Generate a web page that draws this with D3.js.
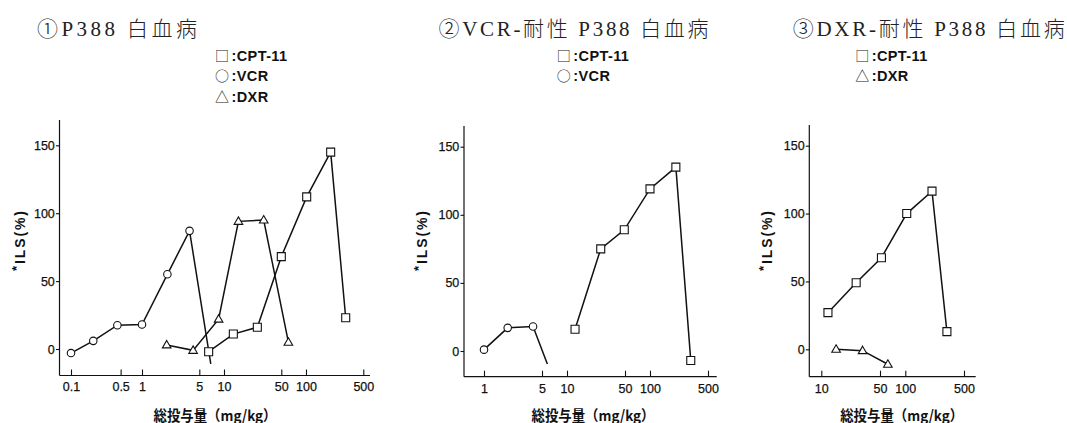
<!DOCTYPE html>
<html><head><meta charset="utf-8">
<script src="https://cdn.jsdelivr.net/npm/d3@7"></script>
<style>
html,body{margin:0;padding:0;background:#fff;}
svg{display:block;}
</style></head><body>
<svg id="chart" width="1067" height="423"></svg>
<script>
// ---------- DATA ----------
const yTickValues = [0, 50, 100, 150];
const xLabel = "総投与量（mg/kg）";
const yLabel = "ILS(%)";

// Panel 1: P388 leukemia
const p1Title = "①P388 白血病";
const p1XTickLabels = ["0.1", "0.5", "1", "5", "10", "50", "100", "500"];
const p1CptDose = [6.5, 13, 25.5, 50, 102, 200, 305];
const p1CptIls  = [-2, 11, 16, 68, 112, 145, 23];
const p1VcrDose = [0.1, 0.206, 0.45, 1, 2.04, 3.8, 6.9];
const p1VcrIls  = [-3, 6, 17.5, 18, 55, 87, -11];
const p1VcrMarked = [true, true, true, true, true, true, false];
const p1DxrDose = [2, 4.2, 8.6, 15, 30.5, 61];
const p1DxrIls  = [3, -1, 22, 94, 95, 5];
const p1Legend = ["□", "○", "△"];
const p1LegendText = [":CPT-11", ":VCR", ":DXR"];

// Panel 2: VCR-resistant P388 leukemia
const p2Title = "②VCR-耐性 P388 白血病";
const p2XTickLabels = ["1", "5", "10", "50", "100", "500"];
const p2CptDose = [12.5, 25.5, 49, 100, 205, 310];
const p2CptIls  = [16, 75, 89, 119, 135, -7];
const p2VcrDose = [1, 1.93, 3.9, 5.8];
const p2VcrIls  = [1, 17, 18, -9.5];
const p2VcrMarked = [true, true, true, false];
const p2Legend = ["□", "○"];
const p2LegendText = [":CPT-11", ":VCR"];

// Panel 3: DXR-resistant P388 leukemia
const p3Title = "③DXR-耐性 P388 白血病";
const p3XTickLabels = ["10", "50", "100", "500"];
const p3CptDose = [12, 26, 52, 104, 208, 313];
const p3CptIls  = [27, 49, 67.5, 100, 116.5, 13];
const p3DxrDose = [15, 31, 62];
const p3DxrIls  = [0, -1, -11];
const p3Legend = ["□", "△"];
const p3LegendText = [":CPT-11", ":DXR"];

// ---------- DRAWING ----------
const svg = d3.select("#chart");
const zip = (ds, vs, ms) => ds.map((d, i) => ({dose: d, ils: vs[i], marked: ms ? ms[i] : true}));

const panels = [
  {
    title: p1Title, titleX: 37, titleW: 160,
    xDomain: [0.1, 1, 500], xRange: [71, 142, 363.3],
    yRange: [349, 145.3],
    left: 59.5, right: 370, top: 120, bottom: 375.5,
    xTicks: p1XTickLabels,
    series: [
      {pts: zip(p1CptDose, p1CptIls), shape: "square"},
      {pts: zip(p1VcrDose, p1VcrIls, p1VcrMarked), shape: "circle"},
      {pts: zip(p1DxrDose, p1DxrIls), shape: "triangle"}
    ],
    legend: p1Legend, legendText: p1LegendText, legendX: 216.5,
    yLabelX: 20, xLabelX: 215
  },
  {
    title: p2Title, titleX: 438.5, titleW: 270,
    xDomain: [1, 500], xRange: [484, 708],
    yRange: [351, 146.7],
    left: 464, right: 716.7, top: 126, bottom: 376.7,
    xTicks: p2XTickLabels,
    series: [
      {pts: zip(p2CptDose, p2CptIls), shape: "square"},
      {pts: zip(p2VcrDose, p2VcrIls, p2VcrMarked), shape: "circle"}
    ],
    legend: p2Legend, legendText: p2LegendText, legendX: 558.3,
    yLabelX: 422, xLabelX: 593
  },
  {
    title: p3Title, titleX: 792.7, titleW: 272,
    xDomain: [10, 500], xRange: [821.3, 964],
    yRange: [349.3, 145.7],
    left: 809.3, right: 975.7, top: 125, bottom: 376.7,
    xTicks: p3XTickLabels,
    series: [
      {pts: zip(p3CptDose, p3CptIls), shape: "square"},
      {pts: zip(p3DxrDose, p3DxrIls), shape: "triangle"}
    ],
    legend: p3Legend, legendText: p3LegendText, legendX: 856.7,
    yLabelX: 767, xLabelX: 901.7
  }
];

const tickFont = "'Liberation Sans', Arial, sans-serif";
const cjkFont = "'Noto Sans CJK JP', 'Liberation Sans', sans-serif";

panels.forEach(p => {
  const g = svg.append("g");
  const x = d3.scaleLog().domain(p.xDomain).range(p.xRange);
  const y = d3.scaleLinear().domain([0, 150]).range(p.yRange);

  // title
  g.append("text")
    .attr("x", p.titleX).attr("y", 35.5)
    .attr("textLength", p.titleW).attr("lengthAdjust", "spacing")
    .style("font-family", "'Liberation Serif', 'Noto Sans CJK JP', serif")
    .style("font-weight", 300)
    .style("font-size", "21px").style("fill", "#222")
    .text(p.title);

  // legend
  p.legend.forEach((s, i) => {
    const by = 60.5 + i * 20.7;
    g.append("text").attr("x", p.legendX - 1.5).attr("y", by)
      .style("font-family", cjkFont).style("font-size", "14px").style("fill", "#222")
      .text(s);
    g.append("text").attr("x", p.legendX + 15).attr("y", by)
      .style("font-family", tickFont).style("font-weight", "bold")
      .style("letter-spacing", "0.4px")
      .style("font-size", "14.5px").style("fill", "#111")
      .text(p.legendText[i]);
  });

  // spines
  g.append("line").attr("x1", p.left).attr("x2", p.right).attr("y1", p.bottom).attr("y2", p.bottom)
    .attr("stroke", "#111").attr("stroke-width", 1.2);
  g.append("line").attr("x1", p.left).attr("x2", p.left).attr("y1", p.top).attr("y2", p.bottom)
    .attr("stroke", "#111").attr("stroke-width", 1.2);

  // x axis
  const xa = g.append("g").attr("transform", `translate(0,${p.bottom})`)
    .call(d3.axisBottom(x).tickValues(p.xTicks.map(Number)).tickFormat((d, i) => p.xTicks[i])
      .tickSizeInner(-6).tickSizeOuter(0).tickPadding(7));
  xa.select(".domain").remove();
  xa.selectAll("line").attr("stroke", "#111").attr("stroke-width", 1.1);
  xa.selectAll("text").style("font-family", tickFont).style("font-size", "12.5px")
    .style("fill", "#111").style("stroke", "#111").style("stroke-width", 0.25);

  // y axis
  const ya = g.append("g").attr("transform", `translate(${p.left},0)`)
    .call(d3.axisLeft(y).tickValues(yTickValues).tickSizeInner(3.5).tickSizeOuter(0).tickPadding(1.2));
  ya.select(".domain").remove();
  ya.selectAll("line").attr("stroke", "#111").attr("stroke-width", 1.1);
  ya.selectAll("text").style("font-family", tickFont).style("font-size", "12.5px")
    .style("fill", "#111").style("stroke", "#111").style("stroke-width", 0.25);

  // y label
  const yl = g.append("text")
    .attr("transform", `translate(${p.yLabelX + 5},${241}) rotate(-90)`)
    .attr("text-anchor", "middle")
    .attr("textLength", 60).attr("lengthAdjust", "spacing")
    .style("font-family", tickFont).style("font-size", "14px").style("font-weight", "bold").style("fill", "#111");
  yl.append("tspan").attr("font-size", "13px").attr("dy", "-4").text("*");
  yl.append("tspan").attr("dy", "4").text(yLabel);

  // x label
  g.append("text").attr("x", p.xLabelX).attr("y", 420.5).attr("text-anchor", "middle")
    .attr("textLength", 123).attr("lengthAdjust", "spacingAndGlyphs")
    .style("font-family", cjkFont).style("font-weight", "bold").style("font-size", "14.5px").style("fill", "#111")
    .text(xLabel);

  // series
  const line = d3.line().x(d => x(d.dose)).y(d => y(d.ils));
  p.series.forEach(s => {
    g.append("path").attr("d", line(s.pts)).attr("fill", "none")
      .attr("stroke", "#111").attr("stroke-width", 1.5).attr("stroke-linejoin", "miter");
  });
  p.series.forEach(s => {
    const pts = s.pts.filter(d => d.marked);
    let sym;
    if (s.shape === "circle") sym = d3.symbol(d3.symbolCircle, 44);
    else if (s.shape === "square") sym = d3.symbol(d3.symbolSquare, 64);
    else sym = d3.symbol(d3.symbolTriangle, 32);
    g.selectAll(null).data(pts).enter().append("path")
      .attr("d", sym)
      .attr("transform", d => `translate(${x(d.dose)},${y(d.ils) + (s.shape === "triangle" ? 0.5 : 0)})`)
      .attr("fill", "#fff").attr("stroke", "#111").attr("stroke-width", 1.1);
  });
});
</script>
</body></html>
